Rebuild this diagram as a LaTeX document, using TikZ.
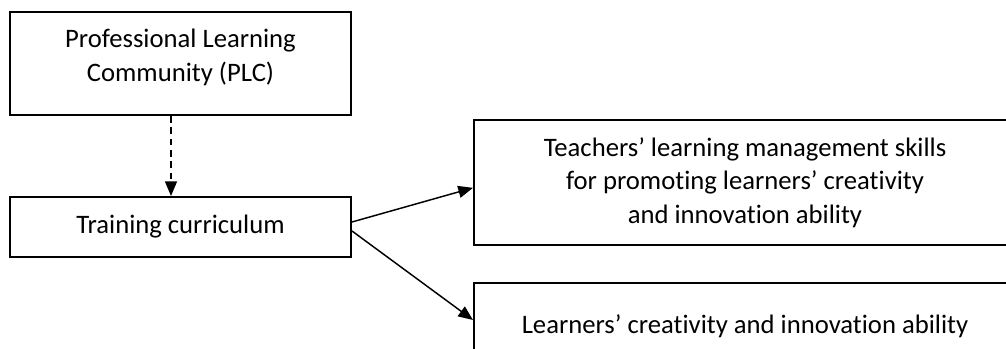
\documentclass[tikz,border=0pt]{standalone}
\usepackage{fontspec}
\setmainfont{Carlito}[Ligatures = NoCommon]
\usetikzlibrary{arrows.meta}

\tikzset{
    box/.style = {draw, black, line width = 1.5pt, rectangle, align = center,
                  inner sep = 0pt, font = {\fontsize{20}{25}\selectfont}},
    link/.style = {line width = 1.1pt, -{Triangle[length = 11pt, width = 9pt]}}
}

\begin{document}
\begin{tikzpicture}[x = 0.75pt, y = -0.75pt]
            \clip (0, 0) rectangle (1006, 349);
            \node[box, minimum width = 255.75pt, minimum height = 77.25pt, text depth = 12.5pt] (plc) at (180.5, 63.5) {Professional Learning\\Community (PLC)};
            \node[box, minimum width = 255.75pt, minimum height = 45pt] (train) at (180.5, 227) {Training curriculum};
            \node[box, minimum width = 406.5pt, minimum height = 93.75pt] (skills) at (745, 182.5) {Teachers’ learning management skills\\for promoting learners’ creativity\\and innovation ability};
            \node[box, minimum width = 406.5pt, minimum height = 64.5pt] (learn) at (745, 326) {Learners’ creativity and innovation ability};

            \draw[link, dash pattern = on 5pt off 3.5pt] (plc.south -| 171,0) -- (train.north -| 171,0);
            \draw[link] ([yshift = 3.75pt]train.east) -- ([yshift = -4pt]skills.west);
            \draw[link] ([yshift = -3pt]train.east) -- ([yshift = 4.5pt]learn.west);
        \end{tikzpicture}
\end{document}
